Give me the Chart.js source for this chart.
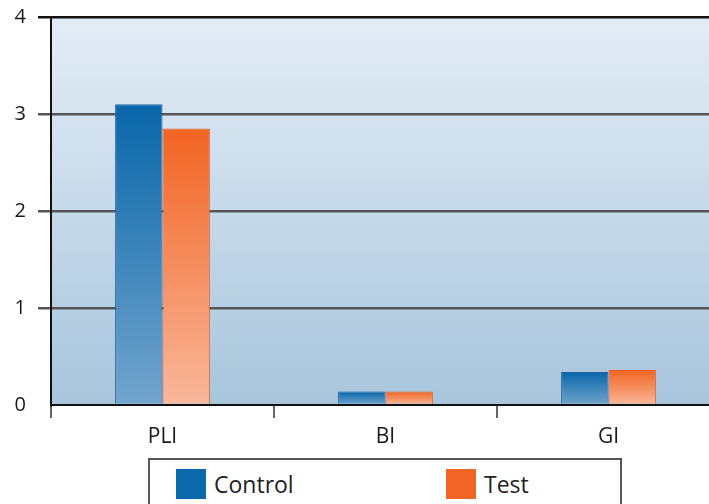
<!DOCTYPE html>
<html>
<head>
<meta charset="utf-8">
<script src="https://cdn.jsdelivr.net/npm/chart.js@4/dist/chart.umd.min.js"></script>
<style>
  html, body { margin: 0; padding: 0; background: #fff; overflow: hidden; }
  #wrap { position: relative; width: 709px; height: 504px; overflow: hidden; }
  #myChart { position: absolute; left: 0; top: 0; }
  #legend {
    position: absolute; left: 148px; top: 458px; width: 474px; height: 60px;
    border: 2px solid #555; box-sizing: border-box; background: #fff;
    font-family: "Open Sans", sans-serif; font-size: 23px; color: #222;
  }
  .item { position: absolute; top: 8px; display: flex; align-items: center; }
  .sw { width: 30px; height: 30px; margin-right: 8px; }
</style>
</head>
<body>
<div id="wrap">
  <canvas id="myChart" width="720" height="504"></canvas>
  <div id="legend"></div>
</div>
<script>
const categories = ["PLI", "BI", "GI"];
const controlValues = [3.10, 0.14, 0.34];
const testValues = [2.85, 0.14, 0.36];
const yTicks = [0, 1, 2, 3, 4];

// 棒ごとの縦グラデーション
function barGradient(top, bottom, fallback) {
  return (context) => {
    const chart = context.chart;
    if (!chart.chartArea || context.parsed === undefined) return fallback;
    const y = chart.scales.y;
    const y0 = y.getPixelForValue(context.parsed.y);
    const y1 = y.getPixelForValue(0);
    if (!isFinite(y0) || !isFinite(y1) || y0 === y1) return fallback;
    const g = chart.ctx.createLinearGradient(0, y0, 0, y1);
    g.addColorStop(0, top);
    g.addColorStop(1, bottom);
    return g;
  };
}

const plotBackground = {
  id: "plotBackground",
  beforeDraw(chart) {
    const { ctx, chartArea: a } = chart;
    const g = ctx.createLinearGradient(0, a.top, 0, a.bottom);
    g.addColorStop(0, "#e4edf6");
    g.addColorStop(1, "#a8c5dc");
    ctx.save();
    ctx.fillStyle = g;
    ctx.fillRect(a.left, a.top, a.right - a.left, a.bottom - a.top);
    ctx.restore();
  }
};

window.onload = function () {
  const ctx = document.getElementById("myChart").getContext("2d");
  const myChart = new Chart(ctx, {
    type: "bar",
    data: {
      labels: categories,
      datasets: [
        {
          label: "Control",
          data: controlValues,
          backgroundColor: barGradient("#0866a9", "#72a5cd", "#0866a9"),
          borderColor: "#1c62a0",
          borderWidth: 1,
          swatch: "#0a68ab",
        },
        {
          label: "Test",
          data: testValues,
          backgroundColor: barGradient("#f26422", "#f9b89c", "#f26422"),
          borderColor: "#e8602a",
          borderWidth: 1,
          swatch: "#f26522",
        },
      ],
    },
    options: {
      responsive: false,
      animation: false,
      layout: { padding: { top: 17, left: 0, right: 0, bottom: 0 } },
      plugins: { legend: { display: false }, tooltip: { enabled: false } },
      datasets: { bar: { categoryPercentage: 0.425, barPercentage: 1.0 } },
      scales: {
        x: {
          offset: true,
          afterFit: (s) => { s.height = 99; s.paddingLeft = 0; s.paddingRight = 0; },
          grid: {
            offset: true,
            drawOnChartArea: false,
            drawTicks: true,
            tickLength: 13,
            color: "#666",
            lineWidth: 2,
          },
          border: { display: true, color: "#111", width: 2 },
          ticks: {
            padding: 6,
            color: "#1a1a1a",
            font: { family: "Open Sans", size: 21 },
          },
        },
        y: {
          min: 0,
          max: 4,
          afterFit: (s) => { s.width = 51; s.paddingTop = 0; s.paddingBottom = 0; },
          afterBuildTicks: (s) => { s.ticks = yTicks.map((v) => ({ value: v })); },
          grid: {
            color: (c) => (c.tick && c.tick.value === 4 ? "#111" : (c.tick && c.tick.value === 0 ? "rgba(0,0,0,0)" : "#555")),
            lineWidth: 2.5,
            tickLength: 13,
          },
          border: { display: true, color: "#111", width: 2 },
          ticks: {
            padding: 12,
            color: "#1a1a1a",
            font: { family: "Open Sans", size: 20 },
          },
        },
      },
    },
    plugins: [plotBackground],
  });

  // 凡例（データセットから作成）
  const legend = document.getElementById("legend");
  const lefts = [26, 296];
  myChart.data.datasets.forEach((ds, i) => {
    const item = document.createElement("div");
    item.className = "item";
    item.style.left = lefts[i] + "px";
    item.innerHTML = '<div class="sw" style="background:' + ds.swatch + '"></div><span>' + ds.label + "</span>";
    legend.appendChild(item);
  });
};
</script>
</body>
</html>
